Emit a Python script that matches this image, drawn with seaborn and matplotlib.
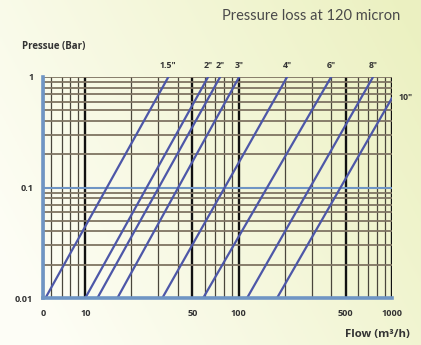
#!/usr/bin/env python3

import numpy as np
import pandas as pd
import matplotlib
matplotlib.use("Agg")
import matplotlib.pyplot as plt
import matplotlib.transforms as mtransforms
from matplotlib.ticker import FixedLocator, NullFormatter
import seaborn as sns

# filter sizes, one line per filter (two different 2" lines)
sizes = ['1.5"', '2"', '2"', '3"', '4"', '6"', '8"', '10"']
# flow (m3/h) where each line leaves the 0.01 bar floor
flow_low = [5.5, 10.0, 12.0, 16.2, 31.8, 58.7, 113.5, 178.0]
# flow (m3/h) and pressure (bar) where each line ends
flow_high = [34.8, 63.2, 75.7, 100.7, 207.0, 401.0, 752.0, 1000.0]
pressure_high = [1.0, 1.0, 1.0, 1.0, 1.0, 1.0, 1.0, 0.646]
pressure_low = 0.01

x_ticks = [5.3, 10, 50, 100, 500, 1000]
x_tick_labels = ["0", "10", "50", "100", "500", "1000"]
y_ticks = [0.01, 0.1, 1]
y_tick_labels = ["0.01", "0.1", "1"]

LINE_BLUE = "#4d57a8"
AXIS_BLUE = "#6f95c4"
BOLD_FONT = ["Open Sans", "DejaVu Sans"]


def background(fig):
    "Pale cream to yellow-green gradient like the slide behind the chart"
    bg = fig.add_axes([0, 0, 1, 1], zorder=-10)
    nx, ny = 200, 160
    xx, yy = np.meshgrid(np.linspace(0, 1, nx), np.linspace(1, 0, ny))
    w = np.clip(0.8 * xx + 0.35 * yy - 0.1, 0, 1)[..., None]
    light = np.array([0.995, 0.995, 0.965])
    yellow = np.array([0.925, 0.945, 0.76])
    img = light * (1 - w) + yellow * w
    bg.imshow(img, aspect="auto", extent=[0, 1, 0, 1])
    bg.set_axis_off()


def plot_pressure_loss():
    rows = []
    for i, size in enumerate(sizes):
        rows.append({"line": i, "size": size, "flow": flow_low[i], "pressure": pressure_low})
        rows.append({"line": i, "size": size, "flow": flow_high[i], "pressure": pressure_high[i]})
    df = pd.DataFrame(rows)

    sns.set_style("white")
    plt.rcParams["font.family"] = ["Lato", "DejaVu Sans"]

    fig = plt.figure(figsize=(4.21, 3.45), dpi=100)
    background(fig)
    ax = fig.add_axes([43 / 421, 1 - 298 / 345, (392 - 43) / 421, (298 - 77) / 345])
    ax.set_facecolor("none")

    sns.lineplot(data=df, x="flow", y="pressure", hue="line",
                 palette=[LINE_BLUE] * len(sizes), legend=False,
                 linewidth=1.6, ax=ax, zorder=5)

    ax.set_xscale("log")
    ax.set_yscale("log")
    ax.set_xlim(x_ticks[0], x_ticks[-1])
    ax.set_ylim(y_ticks[0], y_ticks[-1])

    # grid: brownish horizontals, dark thin verticals, thick black at labelled flows
    ax.yaxis.set_major_locator(FixedLocator(y_ticks))
    ax.yaxis.set_minor_locator(FixedLocator(
        [m * d for d in (0.01, 0.1) for m in range(2, 10)]))
    ax.xaxis.set_major_locator(FixedLocator(x_ticks))
    ax.xaxis.set_minor_locator(FixedLocator(
        [6, 7, 8, 9] + [m * d for d in (10, 100) for m in range(2, 10) if m != 5]))
    ax.yaxis.set_minor_formatter(NullFormatter())
    ax.xaxis.set_minor_formatter(NullFormatter())
    ax.set_xticklabels(x_tick_labels)
    ax.set_yticklabels(y_tick_labels)

    ax.grid(which="both", axis="y", color="#7f7462", linewidth=1.3)
    ax.grid(which="minor", axis="x", color="#4a463c", linewidth=0.9)
    ax.grid(which="major", axis="x", color="#111111", linewidth=1.7)
    ax.axhline(0.1, color=AXIS_BLUE, linewidth=1.5, zorder=3)

    for side in ("top", "right"):
        ax.spines[side].set_visible(False)
    for side in ("left", "bottom"):
        ax.spines[side].set_color(AXIS_BLUE)
        ax.spines[side].set_linewidth(2.6)
        ax.spines[side].set_zorder(6)

    ax.tick_params(which="both", length=0)
    ax.tick_params(axis="y", pad=7, labelsize=6.6, labelcolor="#333333")
    ax.tick_params(axis="x", pad=8, labelsize=6.6, labelcolor="#333333")
    for lab in ax.get_xticklabels() + ax.get_yticklabels():
        lab.set_fontweight("bold")
        lab.set_family(BOLD_FONT)
    ax.set_xlabel("")
    ax.set_ylabel("")

    # size labels above the top ends of the lines
    top = mtransforms.blended_transform_factory(ax.transData, ax.transAxes)
    right = mtransforms.blended_transform_factory(ax.transAxes, ax.transData)
    for i, size in enumerate(sizes):
        if pressure_high[i] >= 1:
            ax.text(flow_high[i], 1.03, size, transform=top, ha="center",
                    va="bottom", fontsize=6.3, fontweight="bold", family=BOLD_FONT,
                    color="#333333")
        else:
            ax.text(1.02, pressure_high[i], size, transform=right,
                    ha="left", va="center", fontsize=6.3, fontweight="bold",
                    family=BOLD_FONT, color="#333333")

    fig.text(22 / 421, 1 - 47 / 345, "Pressue (Bar)", ha="left", va="center",
             fontsize=7, fontweight="bold", family=BOLD_FONT, color="#333333")
    fig.text(410 / 421, 1 - 335 / 345, "Flow (m\u00b3/h)", ha="right", va="center",
             fontsize=8.2, fontweight="bold", family=BOLD_FONT, color="#333333")
    fig.text(400 / 421, 1 - 16 / 345, "Pressure loss at 120 micron", ha="right",
             va="center", fontsize=10.5, color="#4a4a4a")

    fig.savefig("out.png", dpi=100)


def main():
    plot_pressure_loss()


if __name__ == "__main__":
    main()
